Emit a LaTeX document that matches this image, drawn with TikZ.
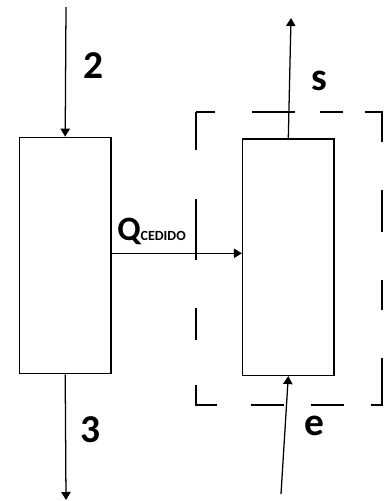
\documentclass[tikz,border=0pt]{standalone}
\usepackage{fontspec}
\setsansfont{Carlito}
\usetikzlibrary{arrows.meta,positioning}
\tikzset{
  font=\sffamily\bfseries,
  unitBox/.style={draw=black, line width=1pt, fill=white, inner sep=0pt,
    minimum width=68.6pt, minimum height=177.3pt},
  flowArrow/.style={-{Triangle[length=6pt,width=7pt]}, line width=0.95pt, draw=black},
  cvLine/.style={draw=black, line width=0.95pt,
    dash pattern=on 28.5pt off 36.75pt on 45.75pt off 36pt on 24pt off 33.75pt
      on 30.75pt off 25.5pt on 24.75pt off 20.25pt on 24.75pt off 20.25pt
      on 43.5pt off 36pt on 22.5pt off 36pt on 31.5pt off 36pt
      on 35.25pt off 16.5pt on 17.25pt off 18.75pt on 32.25pt off 27.75pt on 14.25pt},
  streamLabel/.style={font=\sffamily\bfseries\fontsize{29.6}{32}\selectfont, inner sep=0pt},
  heatLabel/.style={font=\sffamily\bfseries\fontsize{25.6}{28}\selectfont, inner sep=0pt}
}

\begin{document}
\begin{tikzpicture}[x=0.75pt,y=-0.75pt]

% Frame
\useasboundingbox (0,0) rectangle (383,501);

% Exchanger sides
\node[unitBox] (hotSide) at (65.2,255.5) {};
\node[unitBox] (coldSide) at (288.3,257.2) {};

% Control volume
\coordinate (cvNW) at (196,112);
\coordinate (cvSE) at (382,405);
\draw[cvLine] (cvNW) rectangle (cvSE);

% Free ends of the streams
\coordinate (in2) at (66,7);
\coordinate (out3) at (66,500);
\coordinate (sOut) at (291,18);
\coordinate (eIn) at (281,494);

\draw[flowArrow] (in2) -- (hotSide.north);
\draw[flowArrow] (hotSide.south) -- (out3);
\draw[flowArrow] (coldSide.north) -- (sOut);
\draw[flowArrow] (eIn) -- (coldSide.south);
\draw[flowArrow] (hotSide.east |- 0,253.3) -- (coldSide.west |- 0,253.3);

% Labels
\node[streamLabel] (lbl2) at (94,66) {2};
\node[streamLabel] (lbl3) at (91,430) {3};
\node[streamLabel] (lblS) at (319,81) {s};
\node[streamLabel] (lblE) at (314,426) {e};
\node[heatLabel, anchor=base west] (lblQ) at (117,240)
  {Q{\fontsize{10.5}{12}\selectfont CEDIDO}};

\end{tikzpicture}
\end{document}
